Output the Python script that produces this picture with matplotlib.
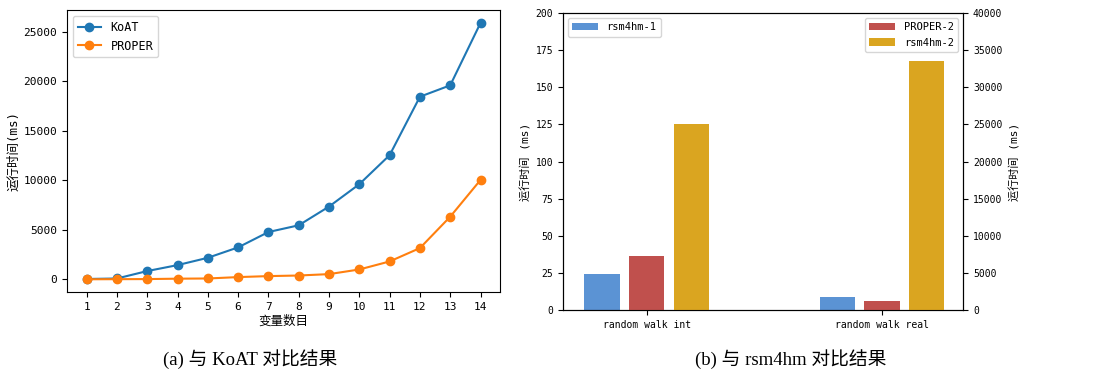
import numpy as np
import matplotlib
matplotlib.use("Agg")
import matplotlib.pyplot as plt

plt.rcParams['font.family'] = ['DejaVu Sans Mono', 'Noto Sans CJK SC']

# left panel data
num_vars = [1, 2, 3, 4, 5, 6, 7, 8, 9, 10, 11, 12, 13, 14]
koat = [50, 100, 850, 1450, 2190, 3240, 4790, 5470, 7360, 9620, 12550, 18450, 19600, 25900]
proper = [20, 30, 40, 80, 100, 240, 340, 400, 540, 1010, 1820, 3170, 6340, 10050]

# right panel data
programs = ["random walk int", "random walk real"]
rsm4hm_1 = [24, 9]
proper_2 = [7240, 1260]
rsm4hm_2 = [25000, 33500]

fig = plt.figure(figsize=(10.97, 3.74), dpi=100)

# (a) line chart
ax1 = fig.add_axes([0.061, 0.219, 0.395, 0.754])
ax1.plot(num_vars, koat, marker='o', markersize=6, linewidth=1.5, color='#1f77b4', label='KoAT')
ax1.plot(num_vars, proper, marker='o', markersize=6, linewidth=1.5, color='#ff7f0e', label='PROPER')
ax1.set_xticks(num_vars)
ax1.set_yticks([0, 5000, 10000, 15000, 20000, 25000])
ax1.tick_params(labelsize=8)
ax1.set_xlabel('变量数目', fontsize=9, labelpad=2)
ax1.set_ylabel('运行时间(ms)', fontsize=9, labelpad=2)
ax1.legend(loc='upper left', fontsize=8.5)

# (b) grouped bars with twin axis
x = np.arange(len(programs))
w = 0.15
off = 0.19
ax2 = fig.add_axes([0.513, 0.171, 0.365, 0.794])
ax3 = ax2.twinx()
ax2.bar(x - off, rsm4hm_1, w, color='#5b93d4', label='rsm4hm-1')
ax3.bar(x, proper_2, w, color='#c0504d', label='PROPER-2')
ax3.bar(x + off, rsm4hm_2, w, color='#daa520', label='rsm4hm-2')
ax2.set_ylim(0, 200)
ax3.set_ylim(0, 40000)
ax2.set_xlim(-0.357, 1.345)
ax2.set_xticks(x)
ax2.set_xticklabels(programs)
ax2.tick_params(labelsize=7)
ax3.tick_params(labelsize=7)
ax2.set_ylabel('运行时间 (ms)', fontsize=8, labelpad=3)
ax3.set_ylabel('运行时间 (ms)', fontsize=8, labelpad=5)
ax2.legend(loc='upper left', fontsize=7.5, handlelength=2.5)
ax3.legend(loc='upper right', fontsize=7.5, handlelength=2.5)

# captions
cap_font = ['Liberation Serif', 'Noto Sans CJK SC']
fig.text(0.228, 0.025, '(a) 与 KoAT 对比结果', ha='center', fontsize=13.5, family=cap_font)
fig.text(0.721, 0.025, '(b) 与 rsm4hm 对比结果', ha='center', fontsize=13.5, family=cap_font)

fig.savefig('out.png', dpi=100)
